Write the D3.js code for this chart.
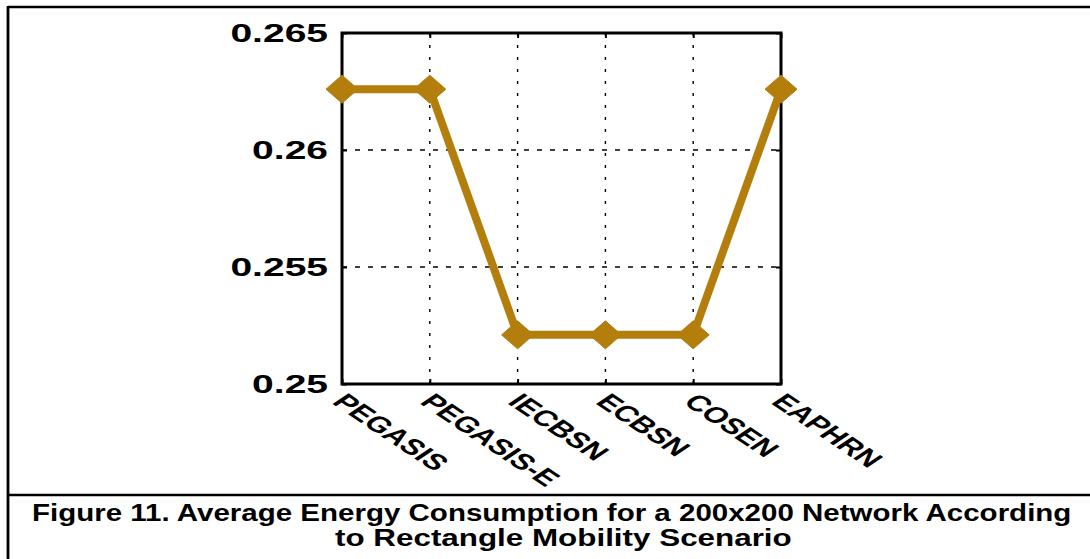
<!DOCTYPE html>
<html>
<head>
<meta charset="utf-8">
<script src="https://cdn.jsdelivr.net/npm/d3@7"></script>
<style>
  html, body { margin: 0; padding: 0; background: #fff; }
  svg { display: block; }
  text { font-family: "Liberation Sans", Arial, Helvetica, sans-serif; font-weight: bold; }
</style>
</head>
<body>
<svg id="chart" width="1090" height="559"></svg>
<script>
const categories = ["PEGASIS", "PEGASIS-E", "IECBSN", "ECBSN", "COSEN", "EAPHRN"];
const energyValues = [0.2626, 0.2626, 0.2521, 0.2521, 0.2521, 0.2626];
const yTickValues = [0.25, 0.255, 0.26, 0.265];
const yTickLabels = ["0.25", "0.255", "0.26", "0.265"];
const captionLines = [
  "Figure 11. Average Energy Consumption for a 200x200 Network According",
  "to Rectangle Mobility Scenario"
];

const svg = d3.select("#chart");
const W = 1090, H = 559;
const plot = { left: 342, right: 781, top: 33, bottom: 384 };
const lineColor = "#b47e0c";
const stretch = 1.5;

const x = d3.scalePoint().domain(categories).range([plot.left, plot.right]);
const y = d3.scaleLinear().domain([0.25, 0.265]).range([plot.bottom, plot.top]);

// figure frame
svg.append("line").attr("x1", 8).attr("x2", W).attr("y1", 7).attr("y2", 7)
  .attr("stroke", "#000").attr("stroke-width", 2.5);
svg.append("line").attr("x1", 8).attr("x2", 8).attr("y1", 6).attr("y2", H)
  .attr("stroke", "#000").attr("stroke-width", 2.8);
svg.append("line").attr("x1", 8).attr("x2", W).attr("y1", 495).attr("y2", 495)
  .attr("stroke", "#000").attr("stroke-width", 2.5);

// grid
const grid = svg.append("g");
grid.selectAll("line.vg").data(categories.slice(1, -1)).join("line")
  .attr("x1", d => x(d)).attr("x2", d => x(d))
  .attr("y1", plot.top).attr("y2", plot.bottom)
  .attr("stroke", "#000").attr("stroke-width", 1.4).attr("stroke-dasharray", "3,9");
grid.selectAll("line.hg").data(yTickValues.slice(1, -1)).join("line")
  .attr("x1", plot.left).attr("x2", plot.right)
  .attr("y1", d => y(d)).attr("y2", d => y(d))
  .attr("stroke", "#000").attr("stroke-width", 1.4).attr("stroke-dasharray", "5,8");

// inner ticks (MATLAB-style)
const yAxisL = d3.axisLeft(y).tickValues(yTickValues).tickSize(-5).tickFormat("");
const yAxisR = d3.axisRight(y).tickValues(yTickValues).tickSize(-5).tickFormat("");
const xAxisB = d3.axisBottom(x).tickSize(-5).tickFormat("");
const xAxisT = d3.axisTop(x).tickSize(-5).tickFormat("");
[[yAxisL, `translate(${plot.left},0)`], [yAxisR, `translate(${plot.right},0)`],
 [xAxisB, `translate(0,${plot.bottom})`], [xAxisT, `translate(0,${plot.top})`]].forEach(([ax, tr]) => {
  const g = svg.append("g").attr("transform", tr).call(ax);
  g.select(".domain").remove();
  g.selectAll(".tick line").attr("stroke", "#000").attr("stroke-width", 2);
});

// axes box
svg.append("rect").attr("x", plot.left).attr("y", plot.top)
  .attr("width", plot.right - plot.left).attr("height", plot.bottom - plot.top)
  .attr("fill", "none").attr("stroke", "#000").attr("stroke-width", 3);

// y tick labels
svg.append("g").selectAll("text").data(yTickValues).join("text")
  .attr("transform", d => `translate(${plot.left - 14},${y(d)}) scale(${stretch},1)`)
  .attr("text-anchor", "end").attr("dy", "0.36em")
  .attr("font-size", 26).attr("fill", "#000")
  .text((d, i) => yTickLabels[i]);

// x tick labels (rotated)
svg.append("g").selectAll("text").data(categories).join("text")
  .attr("transform", d => `translate(${x(d) - 11},${plot.bottom + 19}) scale(${stretch},1) rotate(45)`)
  .attr("text-anchor", "start")
  .attr("font-size", 22).attr("fill", "#000")
  .text(d => d);

// line
const line = d3.line().x((d, i) => x(categories[i])).y(d => y(d));
svg.append("path").datum(energyValues).attr("d", line)
  .attr("fill", "none").attr("stroke", lineColor).attr("stroke-width", 8)
  .attr("stroke-linejoin", "miter");

// diamond markers
const diamond = (cx, cy) => `M${cx - 16},${cy} L${cx},${cy - 14} L${cx + 16},${cy} L${cx},${cy + 14} Z`;
svg.append("g").selectAll("path").data(energyValues).join("path")
  .attr("d", (d, i) => diamond(x(categories[i]), y(d)))
  .attr("fill", lineColor).attr("stroke", lineColor).attr("stroke-width", 1);

// caption
const capSpecs = [
  { x0: 32, yb: 521, width: 1040 },
  { x0: 335, yb: 546, width: 457 }
];
const cap = svg.append("g");
captionLines.forEach((txt, i) => {
  const s = capSpecs[i];
  const t = cap.append("text").attr("x", 0).attr("y", 0).attr("text-anchor", "start")
    .attr("font-size", 24.5).attr("fill", "#000").text(txt);
  const w = t.node().getComputedTextLength();
  t.attr("transform", `translate(${s.x0},${s.yb}) scale(${s.width / w},1)`);
});
</script>
</body>
</html>
